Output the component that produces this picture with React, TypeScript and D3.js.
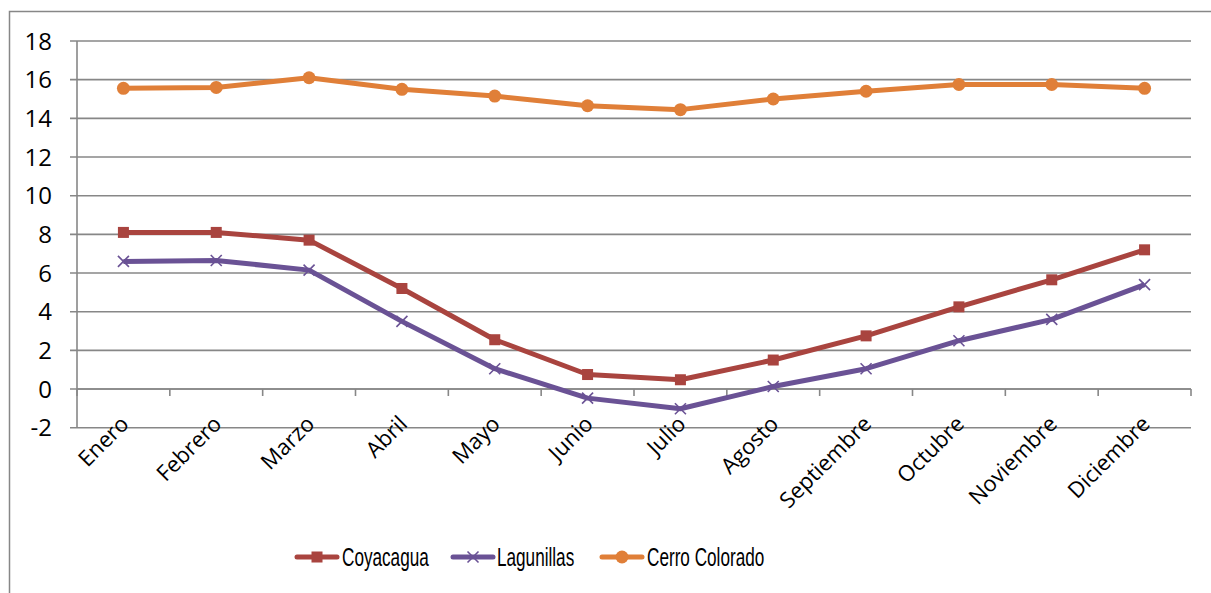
import React from 'react'
import * as d3 from 'd3'

const months = ['Enero', 'Febrero', 'Marzo', 'Abril', 'Mayo', 'Junio', 'Julio', 'Agosto', 'Septiembre', 'Octubre', 'Noviembre', 'Diciembre']
const coyacagua = [8.1, 8.1, 7.7, 5.2, 2.55, 0.75, 0.48, 1.5, 2.75, 4.25, 5.65, 7.2]
const lagunillas = [6.6, 6.65, 6.15, 3.5, 1.05, -0.47, -1.02, 0.13, 1.05, 2.5, 3.6, 5.4]
const cerroColorado = [15.55, 15.6, 16.1, 15.5, 15.15, 14.65, 14.45, 15.0, 15.4, 15.75, 15.75, 15.55]
const yTicks = [-2, 0, 2, 4, 6, 8, 10, 12, 14, 16, 18]

const WIDTH = 1211
const HEIGHT = 593
const plot = { left: 77, right: 1191, top: 41, bottom: 427.7 }
const GRID = '#878787'
const LABEL_FONT = '"Open Sans", "DejaVu Sans", sans-serif'
const LEGEND_FONT = '"Liberation Sans", Arial, sans-serif'

const series = [
    { name: 'Coyacagua', values: coyacagua, color: '#A9443F', marker: 'square' },
    { name: 'Lagunillas', values: lagunillas, color: '#6A5295', marker: 'x' },
    { name: 'Cerro Colorado', values: cerroColorado, color: '#E07F38', marker: 'circle' },
]

const Marker = ({ type, x, y, color }: { type: string, x: number, y: number, color: string }) => {
    if (type === 'square') return <rect x={x - 5.5} y={y - 5.5} width={11} height={11} fill={color} />
    if (type === 'circle') return <circle cx={x} cy={y} r={6.5} fill={color} />
    return (
        <g stroke={color} strokeWidth={1.6}>
            <line x1={x - 5.5} y1={y - 5.5} x2={x + 5.5} y2={y + 5.5} />
            <line x1={x - 5.5} y1={y + 5.5} x2={x + 5.5} y2={y - 5.5} />
        </g>
    )
}

const App = () => {
    const xScale = d3.scaleBand().domain(months).range([plot.left, plot.right])
    const bw = xScale.bandwidth()
    const cx = (m: string) => (xScale(m) as number) + bw / 2
    const yScale = d3.scaleLinear().domain([-2, 18]).range([plot.bottom, plot.top])
    const y0 = yScale(0)

    const line = d3.line<number>()
        .x((_, i) => cx(months[i]))
        .y(d => yScale(d))

    // legend layout
    const legendItems = [
        { x: 297, textX: 342 },
        { x: 453, textX: 497 },
        { x: 602, textX: 647 },
    ]
    const legendY = 557

    return (
        <svg width={WIDTH} height={HEIGHT} style={{ position: 'absolute', left: 0, top: 0 }}>
            <rect x={0} y={0} width={WIDTH} height={HEIGHT} fill="#fff" />
            {/* chart border */}
            <rect x={9.5} y={11.5} width={WIDTH + 10} height={HEIGHT + 10} fill="none" stroke={GRID} strokeWidth={1.5} />

            {/* gridlines and y axis */}
            <g>
                {yTicks.map(t => (
                    <g key={t}>
                        <line x1={plot.left - 7} x2={plot.right} y1={yScale(t)} y2={yScale(t)} stroke={GRID} strokeWidth={1.6} />
                        <text x={52} y={yScale(t)} dy="0.36em" fontSize={24} fontFamily={LABEL_FONT} textAnchor="end" fill="#000">
                            {t}
                        </text>
                    </g>
                ))}
                <line x1={plot.left} x2={plot.left} y1={plot.top} y2={plot.bottom} stroke={GRID} strokeWidth={1.6} />
            </g>

            {/* x axis at 0 */}
            <g>
                <line x1={plot.left} x2={plot.right} y1={y0} y2={y0} stroke={GRID} strokeWidth={1.6} />
                {d3.range(months.length + 1).map(i => {
                    const x = plot.left + i * bw
                    return <line key={i} x1={x} x2={x} y1={y0} y2={y0 + 7} stroke={GRID} strokeWidth={1.6} />
                })}
                {months.map(m => (
                    <text key={m} transform={`translate(${cx(m) - 5},${plot.bottom - 14}) rotate(-45)`}
                        fontSize={22} fontFamily={LABEL_FONT} textAnchor="end" dy="0.75em" fill="#000">
                        {m}
                    </text>
                ))}
            </g>

            {/* series */}
            {series.map(s => (
                <g key={s.name}>
                    <path d={line(s.values) as string} fill="none" stroke={s.color} strokeWidth={5} strokeLinejoin="round" />
                    {s.values.map((v, i) => (
                        <Marker key={i} type={s.marker} x={cx(months[i])} y={yScale(v)} color={s.color} />
                    ))}
                </g>
            ))}

            {/* legend */}
            {series.map((s, i) => (
                <g key={s.name}>
                    <line x1={legendItems[i].x} x2={legendItems[i].x + 40} y1={legendY} y2={legendY} stroke={s.color} strokeWidth={5} strokeLinecap="round" />
                    <Marker type={s.marker} x={legendItems[i].x + 20} y={legendY} color={s.color} />
                    <text transform={`translate(${legendItems[i].textX},${legendY}) scale(0.66,1)`} dy="0.36em" fontSize={26} fontFamily={LEGEND_FONT} fill="#000">
                        {s.name}
                    </text>
                </g>
            ))}
        </svg>
    )
}

export default App
